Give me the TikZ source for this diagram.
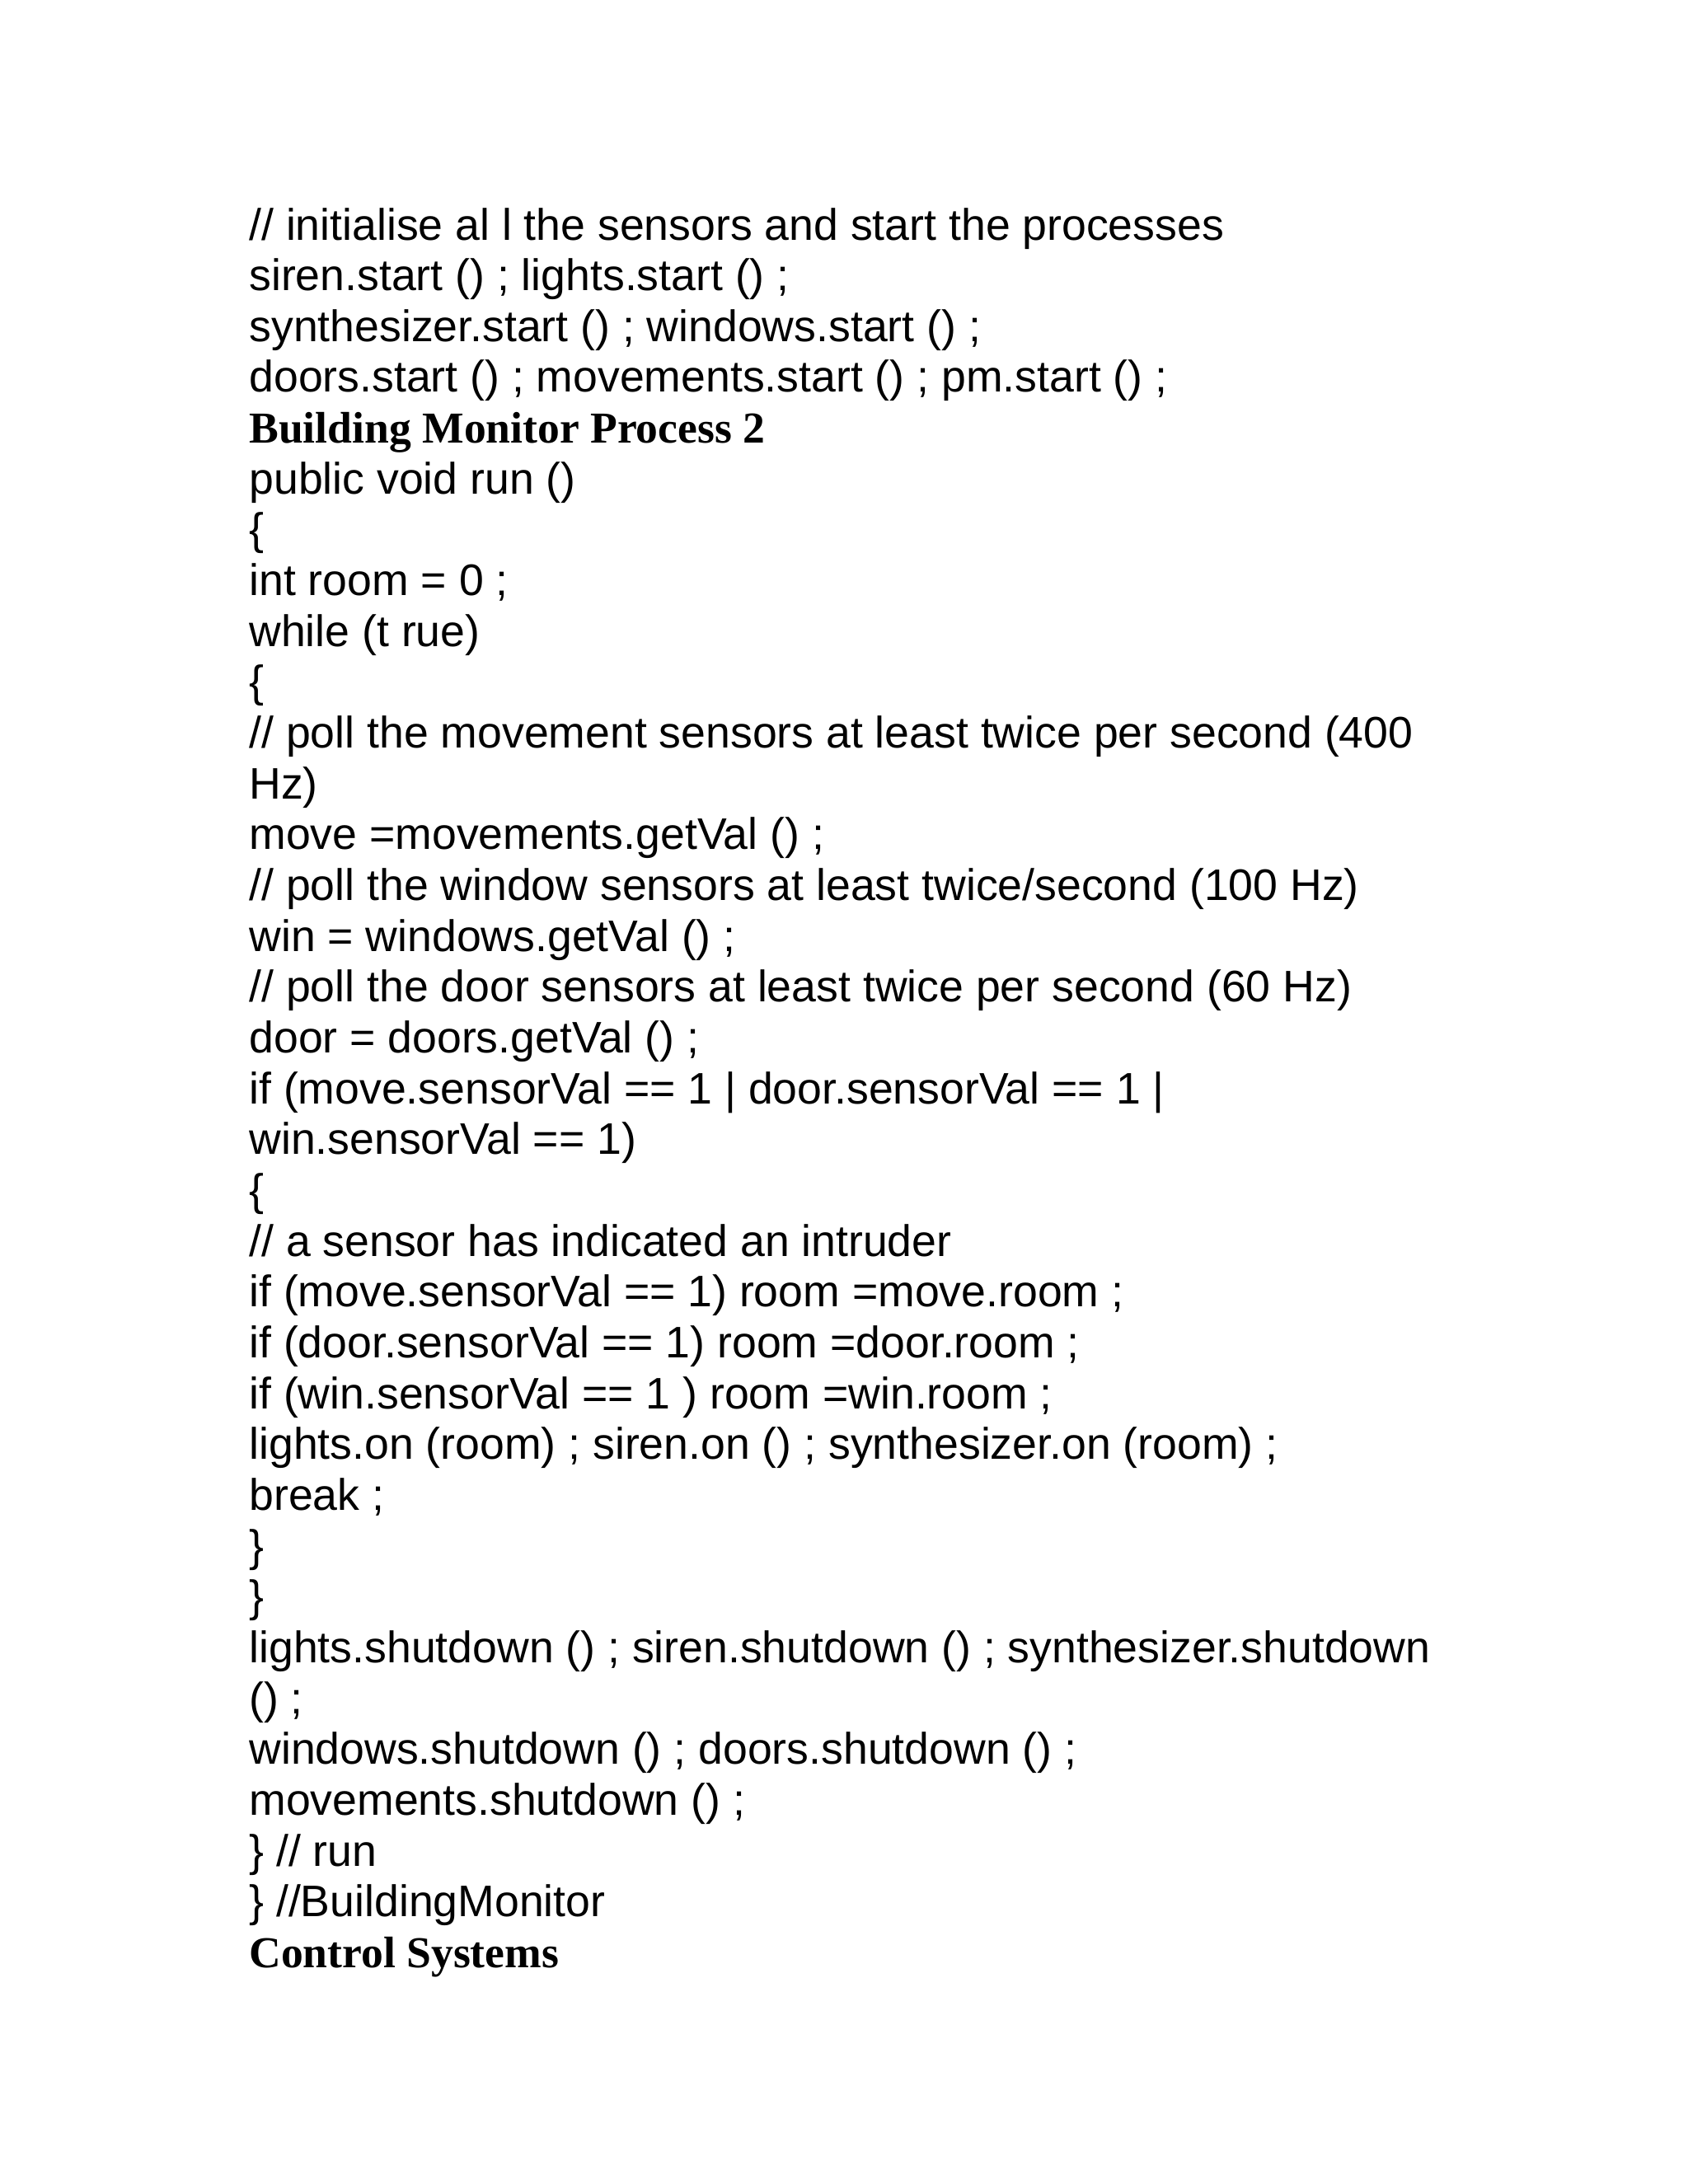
\documentclass[tikz,border=0pt]{standalone}
\usepackage{fontspec}
\setmainfont{Liberation Sans}
\newfontfamily\serifb{Liberation Serif}
\begin{document}
\begin{tikzpicture}[x=1pt,y=1pt,
  codeline/.style={anchor=base west,inner sep=0pt,font=\fontsize{26.8}{30}\selectfont},
  headline/.style={anchor=base west,inner sep=0pt,font=\fontsize{26.8}{30}\selectfont\serifb\bfseries}]
\useasboundingbox[fill=white] (0,0) rectangle (1024,-1325);
\def\L#1#2#3{\node[#2] (l#1) at (151,{-145.5-30.83*#1}) {#3};}
\L{0}{codeline}{// initialise al l the sensors and start the processes}
\L{1}{codeline}{siren.start () ; lights.start () ;}
\L{2}{codeline}{synthesizer.start () ; windows.start () ;}
\L{3}{codeline}{doors.start () ; movements.start () ; pm.start () ;}
\L{4}{headline}{Building Monitor Process 2}
\L{5}{codeline}{public void run ()}
\L{6}{codeline}{\{}
\L{7}{codeline}{int room = 0 ;}
\L{8}{codeline}{while (t rue)}
\L{9}{codeline}{\{}
\L{10}{codeline}{// poll the movement sensors at least twice per second (400}
\L{11}{codeline}{Hz)}
\L{12}{codeline}{move =movements.getVal () ;}
\L{13}{codeline}{// poll the window sensors at least twice/second (100 Hz)}
\L{14}{codeline}{win = windows.getVal () ;}
\L{15}{codeline}{// poll the door sensors at least twice per second (60 Hz)}
\L{16}{codeline}{door = doors.getVal () ;}
\L{17}{codeline}{if (move.sensorVal == 1 \textbar{} door.sensorVal == 1 \textbar}
\L{18}{codeline}{win.sensorVal == 1)}
\L{19}{codeline}{\{}
\L{20}{codeline}{// a sensor has indicated an intruder}
\L{21}{codeline}{if (move.sensorVal == 1) room =move.room ;}
\L{22}{codeline}{if (door.sensorVal == 1) room =door.room ;}
\L{23}{codeline}{if (win.sensorVal == 1 ) room =win.room ;}
\L{24}{codeline}{lights.on (room) ; siren.on () ; synthesizer.on (room) ;}
\L{25}{codeline}{break ;}
\L{26}{codeline}{\}}
\L{27}{codeline}{\}}
\L{28}{codeline}{lights.shutdown () ; siren.shutdown () ; synthesizer.shutdown}
\L{29}{codeline}{() ;}
\L{30}{codeline}{windows.shutdown () ; doors.shutdown () ;}
\L{31}{codeline}{movements.shutdown () ;}
\L{32}{codeline}{\} // run}
\L{33}{codeline}{\} //BuildingMonitor}
\L{34}{headline}{Control Systems}
\end{tikzpicture}
\end{document}
